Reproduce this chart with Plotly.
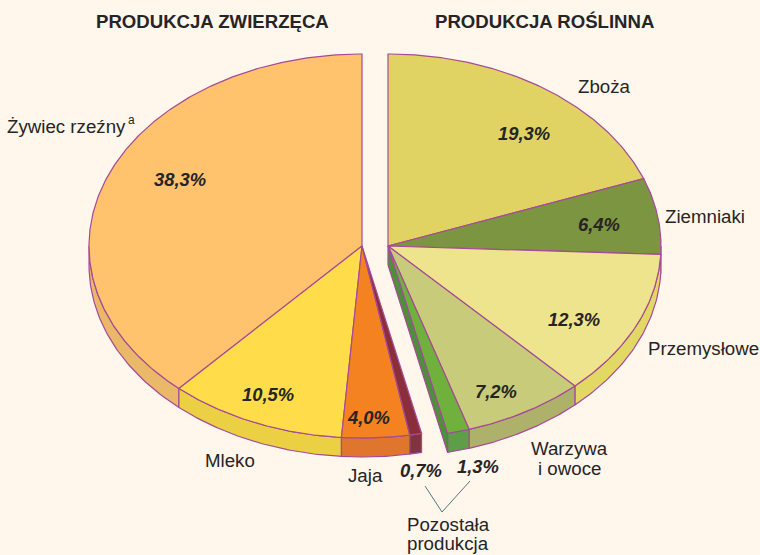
import numpy as np
import plotly.graph_objects as go

# Data
animal_labels = ["Żywiec rzeźny", "Mleko", "Jaja", "Pozostała (zwierzęca)"]
animal_values = [38.3, 10.5, 4.0, 0.7]
plant_labels = ["Zboża", "Ziemniaki", "Przemysłowe", "Warzywa i owoce", "Pozostała (roślinna)"]
plant_values = [19.3, 6.4, 12.3, 7.2, 1.3]

animal_top = ["#FFC36E", "#FFDD4A", "#F58220", "#8B2E3C"]
animal_rim = ["#E9B868", "#EBD044", "#E0752E", "#7D3640"]
plant_top = ["#E0D364", "#7C9540", "#EEE48E", "#C8CB7A", "#70B03C"]
plant_rim = ["#7C9540", "#7C9540", "#E2D964", "#AEB169", "#5F9E48"]
cut_wall = "#4F8F3C"
edge = "#A64A98"
bg = "#FFF6EC"
ink = "#272425"

RX, RY, DEPTH = 273, 192, 19
CX_A, CX_P, CY = 362, 388, 246
SANS = "Liberation Sans, Arial, sans-serif"


def pt(cx, deg, dy=0.0):
    a = np.radians(deg)
    return cx + RX * np.sin(a), CY - RY * np.cos(a) + dy


def add_poly(fig, x, y, fill, w=1.2):
    fig.add_trace(go.Scatter(x=list(x), y=list(y), mode="lines", fill="toself", fillcolor=fill,
                             line=dict(color=edge, width=w), hoverinfo="skip", showlegend=False))


def rim(fig, cx, a0, a1, fill):
    t = np.linspace(a0, a1, 60)
    x0, y0 = pt(cx, t)
    x1, y1 = pt(cx, t[::-1], DEPTH)
    add_poly(fig, np.r_[x0, x1, x0[0]], np.r_[y0, y1, y0[0]], fill)


def wedge(fig, cx, a0, a1, fill):
    t = np.linspace(a0, a1, max(int(abs(a1 - a0)) * 2, 12))
    x, y = pt(cx, t)
    add_poly(fig, np.r_[cx, x, cx], np.r_[CY, y, CY], fill)


def spans(values, sign):
    edges = np.cumsum([0.0] + list(values)) * 3.6 * sign
    return list(zip(edges[:-1], edges[1:]))


fig = go.Figure()

# right group: clockwise from the top
p_spans = spans(plant_values, 1)
for (a0, a1), c in zip(p_spans, plant_rim):
    lo, hi = max(a0, 90), a1
    if hi > lo:
        rim(fig, CX_P, lo, hi, c)
end_p = p_spans[-1][1]
ex, ey = pt(CX_P, end_p)
add_poly(fig, [CX_P, ex, ex, CX_P, CX_P], [CY, ey, ey + DEPTH, CY + DEPTH, CY], cut_wall)
for (a0, a1), c in zip(p_spans, plant_top):
    wedge(fig, CX_P, a0, a1, c)

# left group: counter-clockwise from the top
a_spans = spans(animal_values, -1)
for (a0, a1), c in zip(a_spans, animal_rim):
    hi, lo = a0, a1
    if lo < -90:
        rim(fig, CX_A, min(hi, -90), lo, c)
for (a0, a1), c in zip(a_spans, animal_top):
    wedge(fig, CX_A, a0, a1, c)

# connector under the two small shares
fig.add_trace(go.Scatter(x=[425, 442, 470], y=[486, 512, 481], mode="lines",
                         line=dict(color="#4F7A78", width=1), hoverinfo="skip", showlegend=False))


def fmt(v):
    return f"{v:.1f}".replace(".", ",") + "%"


def note(x, y, text, size=18.7, bold=False, italic=False):
    s = text
    if bold:
        s = f"<b>{s}</b>"
    if italic:
        s = f"<i>{s}</i>"
    fig.add_annotation(x=x, y=y, text=s, showarrow=False, xanchor="center", yanchor="middle",
                       font=dict(family=SANS, size=size, color=ink))


note(212, 21, "PRODUKCJA ZWIERZĘCA", 18.6, bold=True)
note(544, 21, "PRODUKCJA ROŚLINNA", 18.6, bold=True)

pct_pos_a = [(180, 179), (268, 394), (368, 417), (421, 470)]
pct_pos_p = [(524, 133), (599, 224), (574, 319), (496, 391), (478, 466)]
for v, (x, y) in zip(animal_values + plant_values, pct_pos_a + pct_pos_p):
    note(x, y, fmt(v), 18.4, bold=True, italic=True)

note(66, 126, animal_labels[0])
note(131, 120, "a", 12)
note(230, 460, animal_labels[1])
note(365, 475, animal_labels[2])
note(604, 86, plant_labels[0])
note(705, 216, plant_labels[1])
note(703, 348, plant_labels[2])
note(569, 448, "Warzywa")
note(569, 468, "i owoce")
note(448, 524, "Pozostała")
note(448, 543, "produkcja")

fig.update_xaxes(range=[0, 760], visible=False, fixedrange=True)
fig.update_yaxes(range=[555, 0], visible=False, fixedrange=True)
fig.update_layout(width=760, height=555, margin=dict(l=0, r=0, t=0, b=0),
                  paper_bgcolor=bg, plot_bgcolor=bg, showlegend=False)
fig.write_html("out.html", config={"displayModeBar": False},
               post_script="document.body.style.margin='0';document.body.style.overflow='hidden';"
                           "document.documentElement.style.overflow='hidden';")
